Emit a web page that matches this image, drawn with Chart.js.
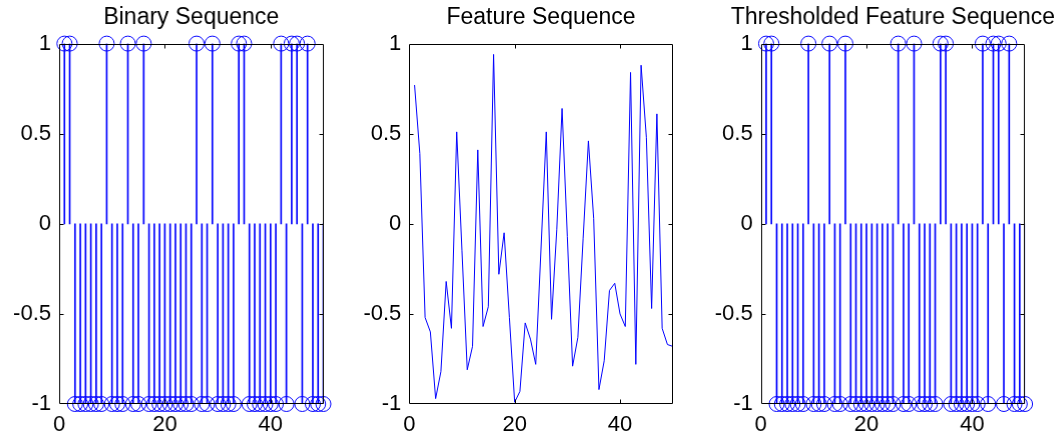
<!DOCTYPE html>
<html><head><meta charset="utf-8">
<script src="https://cdn.jsdelivr.net/npm/chart.js@4/dist/chart.umd.min.js"></script>
<style>
html,body{margin:0;padding:0;background:#fff;}
body{width:1062px;height:436px;position:relative;overflow:hidden;}
.panel{position:absolute;top:0;height:436px;}
</style></head><body>
<div class="panel" style="left:0;width:381.5px"><canvas id="c1"></canvas></div>
<div class="panel" style="left:354px;width:374px"><canvas id="c2"></canvas></div>
<div class="panel" style="left:708px;width:368.8px"><canvas id="c3"></canvas></div>
<script>
const sampleIndex = [1,2,3,4,5,6,7,8,9,10,11,12,13,14,15,16,17,18,19,20,21,22,23,24,25,26,27,28,29,30,31,32,33,34,35,36,37,38,39,40,41,42,43,44,45,46,47,48,49,50];
const binarySequence = [1,1,-1,-1,-1,-1,-1,-1,1,-1, -1,-1,1,-1,-1,1,-1,-1,-1,-1, -1,-1,-1,-1,-1,1,-1,-1,1,-1, -1,-1,-1,1,1,-1,-1,-1,-1,-1, -1,1,-1,1,1,-1,1,-1,-1,-1];
const featureSequence = [0.77,0.39,-0.52,-0.60,-0.97,-0.82,-0.32,-0.58,0.51,-0.15,
  -0.81,-0.68,0.41,-0.57,-0.46,0.94,-0.28,-0.05,-0.52,-0.99,
  -0.93,-0.55,-0.64,-0.78,-0.14,0.51,-0.53,-0.03,0.64,-0.07,
  -0.79,-0.63,-0.08,0.46,0.03,-0.92,-0.76,-0.37,-0.33,-0.50,
  -0.57,0.84,-0.78,0.88,0.48,-0.47,0.61,-0.58,-0.67,-0.68];
const thresholdedSequence = [1,1,-1,-1,-1,-1,-1,-1,1,-1, -1,-1,1,-1,-1,1,-1,-1,-1,-1, -1,-1,-1,-1,-1,1,-1,-1,1,-1, -1,-1,-1,1,1,-1,-1,-1,-1,-1, -1,1,-1,1,1,-1,1,-1,-1,-1];
const xTickValues = [0,20,40];
const yTickValues = [-1,-0.5,0,0.5,1];
const yTickLabels = ['-1','-0.5','0','0.5','1'];
const panelTitles = ['Binary Sequence','Feature Sequence','Thresholded Feature Sequence'];

const FONT = {family:"'Liberation Sans', Arial, sans-serif", size:22, weight:'normal'};
const TITLE_FONT = {family:"'Liberation Sans', Arial, sans-serif", size:23, weight:'normal'};
const BLUE = '#0000ff';

const framePlugin = {
  id:'frame',
  afterDraw(chart){
    const {ctx, chartArea:a, scales} = chart;
    const L = Math.round(a.left)+0.5, R = Math.round(a.right)-0.5, T = Math.round(a.top)+0.5, B = Math.round(a.bottom)-0.5;
    ctx.save();
    ctx.strokeStyle = '#000'; ctx.lineWidth = 1;
    ctx.beginPath();
    ctx.rect(L, T, R-L, B-T);
    xTickValues.forEach(v=>{
      if (v <= scales.x.min || v >= scales.x.max) return;
      const px = Math.round(scales.x.getPixelForValue(v))+0.5;
      ctx.moveTo(px,B); ctx.lineTo(px,B-4);
      ctx.moveTo(px,T); ctx.lineTo(px,T+4);
    });
    yTickValues.forEach(v=>{
      if (v <= scales.y.min || v >= scales.y.max) return;
      const py = Math.round(scales.y.getPixelForValue(v))+0.5;
      ctx.moveTo(L,py); ctx.lineTo(L+4,py);
      ctx.moveTo(R,py); ctx.lineTo(R-4,py);
    });
    ctx.stroke();
    ctx.restore();
  }
};

function stemDatasets(seq){
  const pts = sampleIndex.map((x,i)=>({x:x, y:seq[i]}));
  return [
    {type:'bar', data:pts, backgroundColor:BLUE, borderWidth:0, barThickness:1, grouped:false, order:2},
    {type:'scatter', data:pts, showLine:false, pointStyle:'circle', pointRadius:7.5, pointHoverRadius:7.5,
     pointBorderColor:BLUE, pointBackgroundColor:'rgba(0,0,0,0)', pointBorderWidth:1, clip:false, order:1}
  ];
}
function lineDatasets(seq){
  return [{type:'line', data:sampleIndex.map((x,i)=>({x:x, y:seq[i]})), borderColor:BLUE, borderWidth:1,
    pointRadius:0, tension:0, fill:false}];
}

function makePanel(id, title, yAxisWidth, datasets){
  new Chart(document.getElementById(id), {
    type:'scatter',
    data:{datasets},
    options:{
      responsive:true, maintainAspectRatio:false, animation:false, devicePixelRatio:1,
      layout:{padding:0},
      plugins:{
        legend:{display:false}, tooltip:{enabled:false},
        title:{display:true, text:title, font:TITLE_FONT, color:'#000', padding:{top:4, bottom:12}}
      },
      scales:{
        x:{type:'linear', min:0, max:50, offset:false,
          afterBuildTicks:s=>{s.ticks = xTickValues.map(v=>({value:v}));},
          afterFit:s=>{s.height = 32;},
          grid:{display:false, drawTicks:false, offset:false}, border:{display:false},
          ticks:{font:FONT, color:'#000', padding:8, maxRotation:0, autoSkip:false}},
        y:{type:'linear', position:'left', min:-1, max:1,
          afterBuildTicks:s=>{s.ticks = yTickValues.map(v=>({value:v}));},
          afterFit:s=>{s.width = yAxisWidth;},
          grid:{display:false, drawTicks:false}, border:{display:false},
          ticks:{font:FONT, color:'#000', padding:8, autoSkip:false, callback:(v,i)=>yTickLabels[i]}},
        yRightSpacer:{type:'linear', position:'right', min:-1, max:1, display:true,
          afterFit:s=>{s.width = yAxisWidth;},
          grid:{display:false, drawTicks:false}, border:{display:false},
          ticks:{display:false}}
      }
    },
    plugins:[framePlugin]
  });
}

makePanel('c1', panelTitles[0], 59, stemDatasets(binarySequence));
makePanel('c2', panelTitles[1], 55.3, lineDatasets(featureSequence));
makePanel('c3', panelTitles[2], 52.7, stemDatasets(thresholdedSequence));
</script>
</body></html>
